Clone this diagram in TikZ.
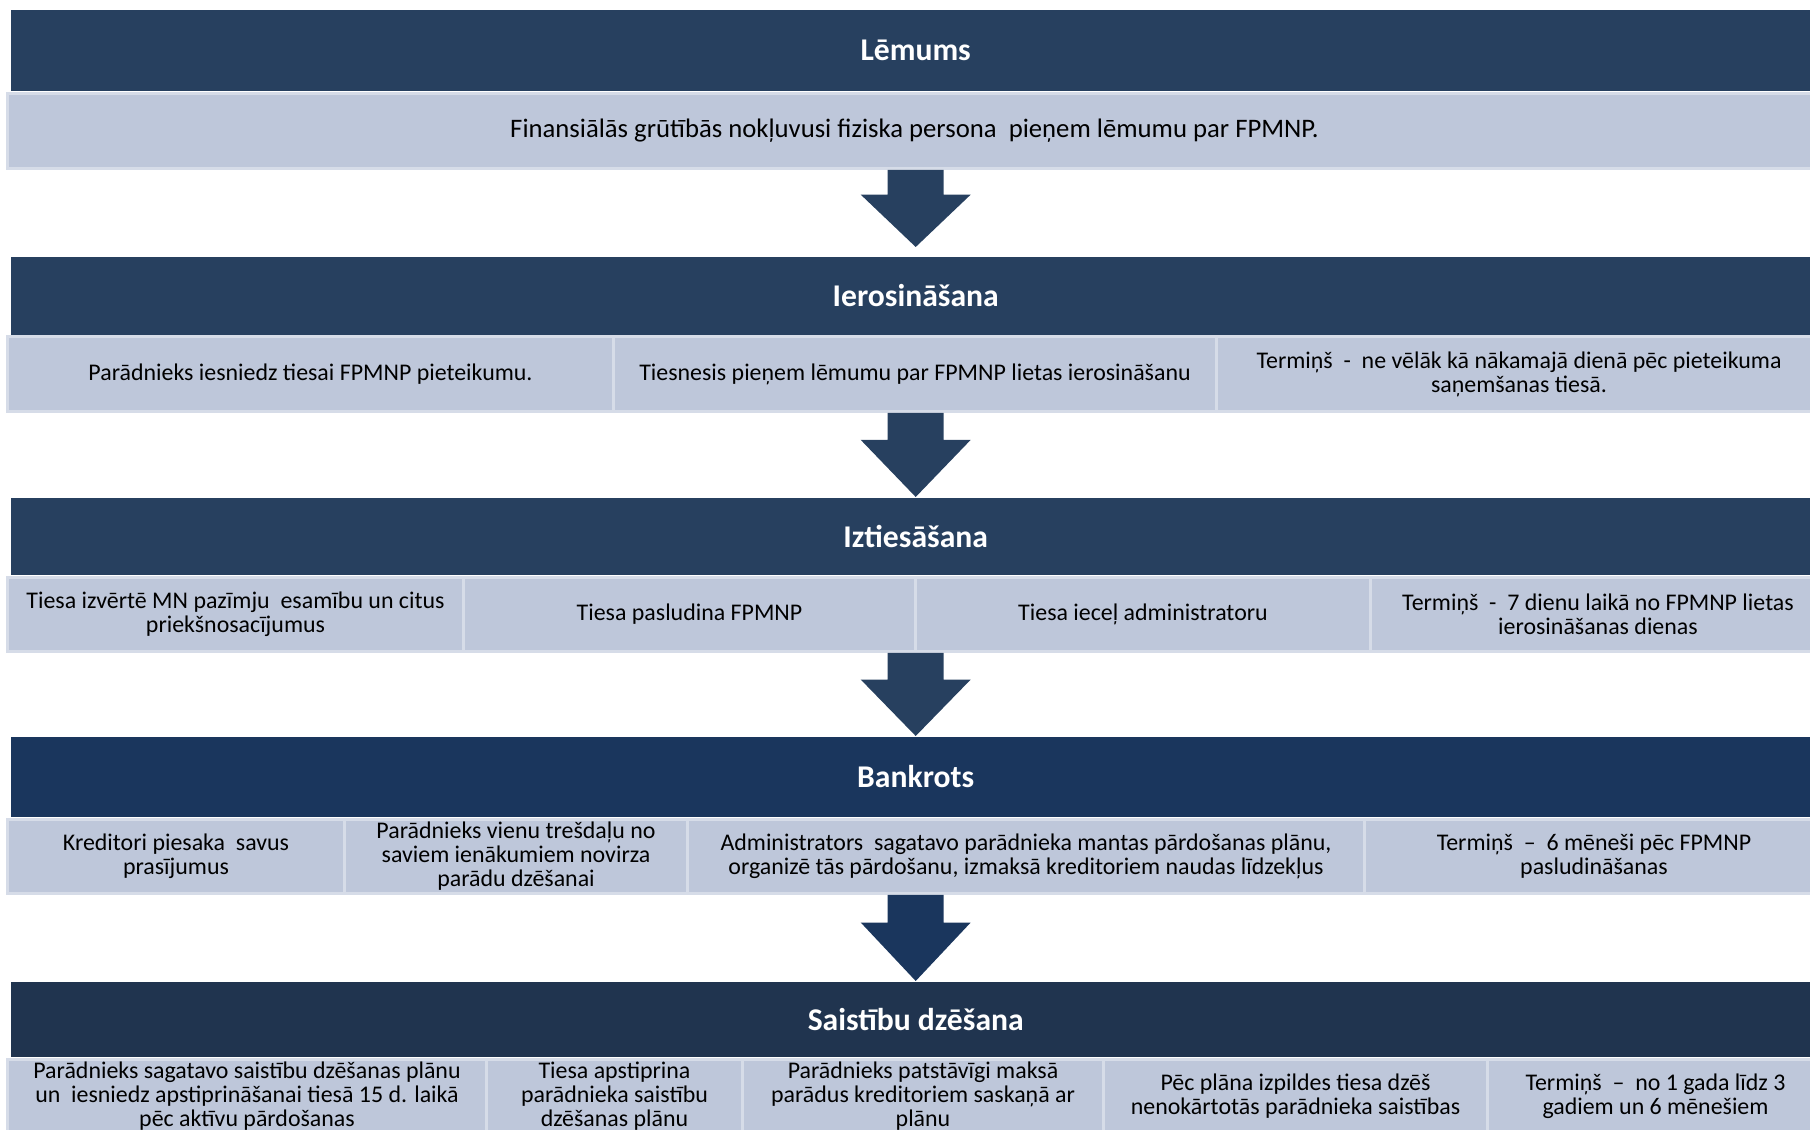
\documentclass[tikz,border=0pt]{standalone}
\usepackage{fontspec}
\setmainfont{Carlito}
\usetikzlibrary{calc}

\definecolor{stagedark}{RGB}{39,64,95}
\definecolor{stageblue}{RGB}{26,54,93}
\definecolor{stagenavy}{RGB}{32,52,79}
\definecolor{cellfill}{RGB}{190,199,218}
\definecolor{cellline}{RGB}{214,220,232}

% block arrow: start coordinate, tip, colour
\newcommand{\stagearrow}[3]{%
    \fill[#3] ($(#1)+(-2.8,0)$) -- ($(#1)+(2.8,0)$) -- ($(#1)!0.32!(#2)+(2.8,0)$) -- ($(#1)!0.32!(#2)+(5.5,0)$)
        -- (#2) -- ($(#1)!0.32!(#2)+(-5.5,0)$) -- ($(#1)!0.32!(#2)+(-2.8,0)$) -- cycle;}

\begin{document}
\begin{tikzpicture}[
                x=1mm, y=-1mm,
                stagehead/.style={anchor=north west, minimum width=181mm, inner sep=0pt,
                    text=white, font=\bfseries\fontsize{9}{11}\selectfont},
                cell/.style={anchor=north west, fill=cellfill, draw=cellline, line width=0.3mm,
                    minimum height=7.4mm, inner sep=0pt, align=center,
                    font=\fontsize{6.8}{6.8}\selectfont}
            ]
            \useasboundingbox (0,0) rectangle (181,113);

            % Lemums
            \node[stagehead, fill=stagedark, minimum height=8.1mm] (h1) at (1.0,0.9) {Lēmums};
            \node[cell, minimum width=181.4mm, minimum height=7.5mm, font=\fontsize{7.6}{8}\selectfont] (c11) at (0.6,9.2)
                {Finansiālās grūtībās nokļuvusi fiziska persona~ pieņem lēmumu par FPMNP.};

            % Ierosinasana
            \node[stagehead, fill=stagedark, minimum height=7.8mm] (h2) at (1.0,25.6) {Ierosināšana};
            \node[cell, minimum width=60.6mm, minimum height=7.5mm] (c21) at (0.6,33.5)
                {Parādnieks iesniedz tiesai FPMNP pieteikumu.};
            \node[cell, minimum width=60.3mm, minimum height=7.5mm] (c22) at (61.2,33.5)
                {Tiesnesis pieņem lēmumu par FPMNP lietas ierosināšanu};
            \node[cell, minimum width=60.5mm, minimum height=7.5mm] (c23) at (121.5,33.5)
                {Termiņš~ -~ ne vēlāk kā nākamajā dienā pēc pieteikuma\\saņemšanas tiesā.};

            % Iztiesasana
            \node[stagehead, fill=stagedark, minimum height=7.7mm] (h3) at (1.0,49.7) {Iztiesāšana};
            \node[cell, minimum width=45.6mm] (c31) at (0.6,57.6)
                {Tiesa izvērtē MN pazīmju~ esamību un citus\\priekšnosacījumus};
            \node[cell, minimum width=45.2mm] (c32) at (46.2,57.6) {Tiesa pasludina FPMNP};
            \node[cell, minimum width=45.5mm] (c33) at (91.4,57.6) {Tiesa ieceļ administratoru};
            \node[cell, minimum width=45.5mm] (c34) at (136.9,57.6)
                {Termiņš~ -~ 7 dienu laikā no FPMNP lietas\\ierosināšanas dienas};

            % Bankrots
            \node[stagehead, fill=stageblue, minimum height=8.0mm] (h4) at (1.0,73.6) {Bankrots};
            \node[cell, minimum width=33.7mm] (c41) at (0.6,81.8)
                {Kreditori piesaka~ savus\\prasījumus};
            \node[cell, minimum width=34.3mm] (c42) at (34.3,81.8)
                {Parādnieks vienu trešdaļu no\\saviem ienākumiem novirza\\parādu dzēšanai};
            \node[cell, minimum width=67.7mm] (c43) at (68.6,81.8)
                {Administrators~ sagatavo parādnieka mantas pārdošanas plānu,\\organizē tās pārdošanu, izmaksā kreditoriem naudas līdzekļus};
            \node[cell, minimum width=45.9mm] (c44) at (136.3,81.8)
                {Termiņš~ –~ 6 mēneši pēc FPMNP\\pasludināšanas};

            % Saistibu dzesana
            \node[stagehead, fill=stagenavy, minimum height=7.5mm] (h5) at (1.0,98.1) {Saistību dzēšana};
            \node[cell, minimum width=47.9mm] (c51) at (0.6,105.8)
                {Parādnieks sagatavo saistību dzēšanas plānu\\un~ iesniedz apstiprināšanai tiesā 15 d. laikā\\pēc aktīvu pārdošanas};
            \node[cell, minimum width=25.6mm] (c52) at (48.5,105.8)
                {Tiesa apstiprina\\parādnieka saistību\\dzēšanas plānu};
            \node[cell, minimum width=36.1mm] (c53) at (74.1,105.8)
                {Parādnieks patstāvīgi maksā\\parādus kreditoriem saskaņā ar\\plānu};
            \node[cell, minimum width=38.4mm] (c54) at (110.2,105.8)
                {Pēc plāna izpildes tiesa dzēš\\nenokārtotās parādnieka saistības};
            \node[cell, minimum width=33.6mm] (c55) at (148.6,105.8)
                {Termiņš~ –~ no 1 gada līdz 3\\gadiem un 6 mēnešiem};

            % Arrows between stages
            \coordinate (a1) at (h1.center |- c11.south);
            \coordinate (a2) at (h2.center |- c22.south);
            \coordinate (a3) at (h3.center |- c33.south);
            \coordinate (a4) at (h4.center |- c43.south);
            \coordinate (t1) at ($(h2.north)+(0,-0.9)$);
            \stagearrow{a1}{t1}{stagedark}
            \stagearrow{a2}{h3.north}{stagedark}
            \stagearrow{a3}{h4.north}{stagedark}
            \stagearrow{a4}{h5.north}{stageblue}

        \end{tikzpicture}
\end{document}
